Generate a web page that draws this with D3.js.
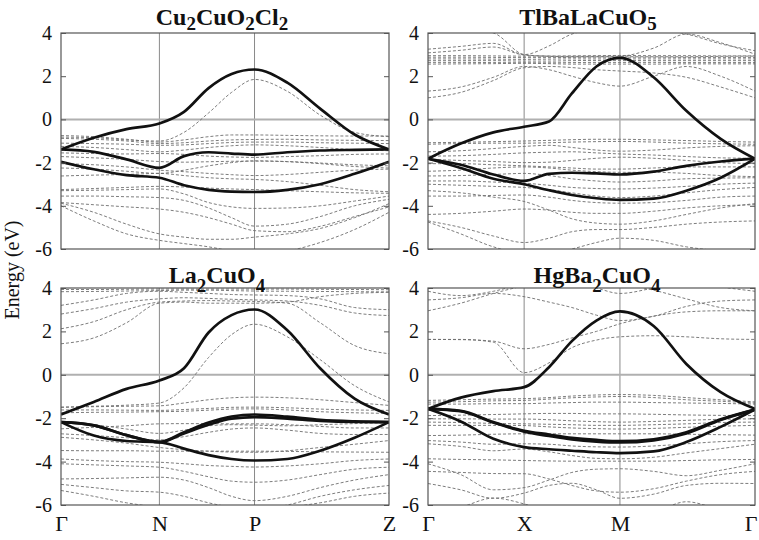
<!DOCTYPE html>
<html>
<head>
<meta charset="utf-8">
<script src="https://cdn.jsdelivr.net/npm/d3@7"></script>
<style>
  body { margin: 0; background: #fff; }
  svg { display: block; }
</style>
</head>
<body>
<div id="chart"></div>
<script>
// k-path sample positions (fraction of the path) and symmetry points
var kLeft  = [0, 0.1, 0.2, 0.3, 0.375, 0.45, 0.52, 0.59, 0.69, 0.79, 0.895, 1];
var kRight = [0, 0.1, 0.2, 0.294, 0.37, 0.44, 0.515, 0.587, 0.69, 0.79, 0.895, 1];
var symLeft = ["Γ", "N", "P", "Z"];
var symLeftK = [0, 0.3, 0.59, 1];
var symRight = ["Γ", "X", "M", "Γ"];
var symRightK = [0, 0.294, 0.587, 1];
var energyTicks = [4, 2, 0, -2, -4, -6];

// titles: [text, isSubscript]
var cu2Title = [["Cu", 0], ["2", 1], ["CuO", 0], ["2", 1], ["Cl", 0], ["2", 1]];
var tlTitle = [["TlBaLaCuO", 0], ["5", 1]];
var laTitle = [["La", 0], ["2", 1], ["CuO", 0], ["4", 1]];
var hgTitle = [["HgBa", 0], ["2", 1], ["CuO", 0], ["4", 1]];

// ---- Cu2CuO2Cl2 (eV) ----
var cu2Bold = [
  [-1.39, -0.85, -0.45, -0.19, 0.35, 1.45, 2.1, 2.31, 1.7, 0.5, -0.7, -1.39],
  [-1.39, -1.5, -1.85, -2.24, -1.7, -1.52, -1.58, -1.63, -1.52, -1.44, -1.41, -1.39],
  [-1.96, -2.31, -2.58, -2.7, -3.05, -3.26, -3.34, -3.36, -3.26, -3.0, -2.52, -1.96]
];
var cu2Dashed = [
  [-0.82, -0.85, -0.95, -1.0, -0.6, 0.3, 1.25, 1.85, 1.3, 0.2, -0.6, -0.8],
  [-0.75, -0.8, -0.92, -1.05, -0.95, -0.8, -0.72, -0.72, -0.74, -0.76, -0.77, -0.77],
  [-0.88, -0.92, -1.0, -1.12, -1.08, -1.0, -0.95, -0.93, -0.92, -0.95, -0.97, -0.98],
  [-1.1, -1.12, -1.15, -1.2, -1.18, -1.12, -1.07, -1.05, -1.05, -1.08, -1.1, -1.12],
  [-1.25, -1.3, -1.4, -1.5, -1.42, -1.3, -1.22, -1.18, -1.22, -1.3, -1.4, -1.45],
  [-1.55, -1.58, -1.6, -1.58, -1.62, -1.7, -1.74, -1.76, -1.72, -1.68, -1.62, -1.6],
  [-1.72, -1.78, -1.85, -1.95, -1.98, -1.96, -1.94, -1.93, -1.96, -2.05, -2.18, -2.25],
  [-2.05, -2.1, -2.2, -2.35, -2.42, -2.5, -2.56, -2.6, -2.55, -2.45, -2.35, -2.3],
  [-2.25, -2.3, -2.4, -2.5, -2.35, -2.15, -2.0, -1.92, -1.95, -2.02, -2.1, -2.15],
  [-2.62, -2.58, -2.55, -2.5, -2.6, -2.7, -2.75, -2.78, -2.88, -3.05, -3.25, -3.35],
  [-3.25, -3.2, -3.15, -3.1, -3.13, -3.18, -3.22, -3.25, -3.3, -3.35, -3.4, -3.42],
  [-3.3, -3.28, -3.25, -3.22, -3.45, -3.85, -4.05, -4.12, -4.1, -4.0, -3.78, -3.55],
  [-3.55, -3.55, -3.58, -3.62, -3.75, -4.1, -4.55, -4.94, -4.85, -4.5, -4.0, -3.7],
  [-3.85, -3.95, -4.05, -4.15, -4.3, -4.55, -4.85, -5.15, -5.2, -4.95, -4.5, -4.05],
  [-3.88, -4.3, -4.85, -5.3, -5.45, -5.55, -5.55, -5.45, -5.3, -5.05, -4.55, -3.9],
  [-4.0, -4.7, -5.3, -5.6, -5.75, -5.9, -6.1, -6.3, -6.1, -5.7, -5.1, -4.3]
];

// ---- TlBaLaCuO5 ----
var tlBold = [
  [-1.82, -1.12, -0.6, -0.34, -0.1, 1.2, 2.45, 2.85, 1.95, 0.4, -0.9, -1.82],
  [-1.82, -2.1, -2.55, -2.85, -2.52, -2.47, -2.5, -2.55, -2.42, -2.15, -1.95, -1.82],
  [-1.82, -2.25, -2.75, -3.0, -3.28, -3.5, -3.65, -3.73, -3.67, -3.3, -2.7, -1.82]
];
var tlDashed = [
  [2.95, 2.95, 2.94, 2.93, 2.93, 2.94, 2.95, 2.96, 2.95, 2.95, 2.94, 2.94],
  [2.88, 2.88, 2.87, 2.86, 2.86, 2.87, 2.88, 2.88, 2.88, 2.87, 2.87, 2.87],
  [2.8, 2.8, 2.79, 2.78, 2.79, 2.8, 2.8, 2.8, 2.8, 2.8, 2.8, 2.8],
  [2.72, 2.72, 2.72, 2.7, 2.7, 2.72, 2.73, 2.73, 2.72, 2.72, 2.72, 2.72],
  [2.64, 2.64, 2.63, 2.62, 2.62, 2.63, 2.64, 2.64, 2.64, 2.63, 2.63, 2.63],
  [2.56, 2.57, 2.58, 2.6, 2.58, 2.56, 2.56, 2.56, 2.56, 2.57, 2.57, 2.57],
  [3.25, 3.38, 3.52, 3.0, 3.4, 3.95, 4.15, 4.2, 4.15, 3.95, 3.5, 3.18],
  [3.08, 3.2, 3.35, 2.98, 2.93, 2.92, 2.92, 2.93, 3.3, 3.95, 3.55, 3.02],
  [4.3, 4.2, 4.0, 3.0, 2.92, 2.9, 2.9, 2.9, 2.9, 2.9, 2.92, 2.93],
  [1.31, 1.5, 1.95, 2.45, 2.3, 2.0, 1.7, 1.54, 2.0, 2.45, 2.0, 1.31],
  [1.0, 1.25, 1.8, 2.39, 2.45, 2.4, 2.3, 2.24, 2.15, 1.95, 1.5, 1.0],
  [-1.08, -1.06, -1.03, -1.0, -0.97, -0.94, -0.92, -0.92, -0.95, -0.98, -1.02, -1.05],
  [-1.15, -1.12, -1.1, -1.1, -1.08, -1.05, -1.03, -1.02, -1.05, -1.1, -1.13, -1.15],
  [-1.5, -1.45, -1.35, -1.25, -1.2, -1.3, -1.42, -1.47, -1.42, -1.32, -1.25, -1.22],
  [-1.7, -1.68, -1.62, -1.55, -1.52, -1.5, -1.55, -1.6, -1.65, -1.72, -1.78, -1.8],
  [-1.85, -1.9, -1.95, -2.0, -1.98, -1.9, -1.8, -1.75, -1.8, -1.9, -2.0, -2.05],
  [-2.05, -2.05, -2.1, -2.15, -2.2, -2.25, -2.3, -2.3, -2.25, -2.2, -2.2, -2.2],
  [-2.4, -2.35, -2.25, -2.2, -2.25, -2.35, -2.42, -2.45, -2.45, -2.5, -2.6, -2.65],
  [-2.62, -2.6, -2.55, -2.5, -2.6, -2.75, -2.85, -2.9, -2.85, -2.75, -2.72, -2.7],
  [-2.85, -2.85, -2.9, -2.95, -3.05, -3.15, -3.2, -3.22, -3.18, -3.1, -3.0, -2.95],
  [-3.0, -3.05, -3.1, -3.15, -3.25, -3.4, -3.55, -3.62, -3.55, -3.4, -3.25, -3.15],
  [-3.55, -3.55, -3.52, -3.5, -3.6, -3.75, -3.85, -3.88, -3.85, -3.75, -3.6, -3.55],
  [-3.3, -3.4, -3.6, -3.8, -4.2, -4.6, -4.8, -4.85, -4.7, -4.4, -4.1, -3.9],
  [-4.4, -4.35, -4.25, -4.15, -4.2, -4.3, -4.35, -4.35, -4.25, -4.1, -4.0, -3.95],
  [-4.7, -5.0, -5.4, -5.7, -5.5, -5.2, -5.1, -5.1, -5.0, -4.85, -4.75, -4.7],
  [-4.75, -5.3, -5.9, -6.2, -6.2, -6.0, -5.7, -5.5, -5.6, -5.9, -6.1, -6.3]
];

// ---- La2CuO4 ----
var laBold = [
  [-1.83, -1.25, -0.65, -0.26, 0.3, 1.95, 2.75, 3.01, 2.05, 0.3, -1.1, -1.83],
  [-2.18, -2.33, -2.78, -3.1, -2.65, -2.2, -1.92, -1.83, -1.93, -2.08, -2.15, -2.18],
  [-2.18, -2.33, -2.78, -3.1, -2.7, -2.3, -2.02, -1.95, -2.02, -2.12, -2.17, -2.18],
  [-2.18, -2.8, -3.05, -3.1, -3.4, -3.7, -3.88, -3.95, -3.88, -3.5, -2.9, -2.18]
];
var laDashed = [
  [3.93, 3.93, 3.94, 3.95, 3.95, 3.95, 3.95, 3.95, 3.95, 3.94, 3.93, 3.92],
  [3.83, 3.84, 3.86, 3.88, 3.9, 3.9, 3.88, 3.86, 3.85, 3.84, 3.83, 3.82],
  [3.2, 3.45, 3.75, 3.85, 3.8, 3.75, 3.7, 3.68, 3.65, 3.5, 3.1, 3.0],
  [2.8, 3.05, 3.35, 3.5, 3.55, 3.52, 3.48, 3.45, 3.4, 3.2, 2.85, 2.73],
  [2.12, 2.45, 3.0, 3.35, 3.4, 3.42, 3.4, 3.38, 3.3, 2.4, 1.35, 0.97],
  [1.43, 1.7, 2.4, 3.3, 3.35, 3.3, 3.3, 3.3, 3.35, 3.6, 3.75, 3.8],
  [-1.5, -1.45, -1.4, -1.3, -0.6, 0.8, 1.85, 2.33, 1.75, 0.7, -0.5, -1.25],
  [-1.49, -1.47, -1.45, -1.43, -1.3, -1.15, -1.06, -1.03, -1.06, -1.15, -1.28, -1.41],
  [-1.62, -1.62, -1.63, -1.64, -1.6, -1.55, -1.5, -1.49, -1.52, -1.58, -1.62, -1.64],
  [-1.75, -1.73, -1.72, -1.7, -1.68, -1.63, -1.58, -1.57, -1.62, -1.7, -1.75, -1.78],
  [-2.2, -2.3, -2.5, -2.7, -2.55, -2.35, -2.3, -2.32, -2.35, -2.3, -2.25, -2.2],
  [-2.49, -2.42, -2.35, -2.26, -2.25, -2.25, -2.26, -2.26, -2.3, -2.38, -2.45, -2.45],
  [-2.72, -2.8, -2.9, -3.0, -2.85, -2.65, -2.5, -2.45, -2.55, -2.7, -2.75, -2.75],
  [-2.88, -3.0, -3.15, -3.35, -3.45, -3.52, -3.56, -3.57, -3.5, -3.35, -3.2, -3.03],
  [-3.49, -3.5, -3.5, -3.52, -3.52, -3.52, -3.52, -3.52, -3.53, -3.55, -3.56, -3.57],
  [-3.88, -3.95, -4.0, -4.03, -4.1, -4.18, -4.22, -4.25, -4.2, -4.1, -3.95, -3.88],
  [-4.1, -4.15, -4.2, -4.26, -4.45, -4.7, -4.9, -4.95, -4.85, -4.6, -4.35, -4.26],
  [-4.8, -4.78, -4.75, -4.72, -4.85, -5.2, -5.6, -5.8, -5.6, -5.2, -4.85, -4.6],
  [-5.05, -5.2, -5.35, -5.41, -5.6, -5.9, -6.1, -6.2, -6.0, -5.6, -5.3, -5.1],
  [-5.33, -5.6, -5.9, -6.1, -6.2, -6.2, -6.2, -6.2, -6.1, -5.9, -5.6, -5.45]
];

// ---- HgBa2CuO4 ----
var hgBold = [
  [-1.57, -1.05, -0.75, -0.57, 0.35, 1.55, 2.5, 2.92, 2.25, 0.5, -0.8, -1.57],
  [-1.57, -1.66, -2.18, -2.58, -2.75, -2.9, -3.0, -3.06, -2.97, -2.65, -2.05, -1.6],
  [-1.57, -1.68, -2.2, -2.62, -2.82, -2.98, -3.08, -3.12, -3.02, -2.7, -2.08, -1.6],
  [-1.57, -2.15, -2.95, -3.33, -3.43, -3.5, -3.57, -3.61, -3.53, -3.1, -2.4, -1.6]
];
var hgDashed = [
  [3.85, 3.65, 3.85, 4.2, 4.4, 4.3, 4.0, 3.75, 4.0, 4.3, 4.05, 3.85],
  [3.45, 3.55, 3.75, 3.6, 3.35, 3.1, 2.75, 2.5, 2.7, 3.15, 3.4, 3.45],
  [2.95, 3.3, 3.75, 4.1, 4.3, 4.4, 4.3, 4.2, 3.9, 3.5, 3.1, 2.95],
  [1.63, 1.63, 1.5, 0.1, 0.55, 1.25, 1.6, 1.75, 1.8, 1.75, 1.66, 1.63],
  [1.63, 1.62, 1.55, 1.2, 1.4, 1.7, 2.0, 2.35, 2.7, 2.9, 2.95, 2.95],
  [-1.18, -1.15, -1.12, -1.1, -1.05, -0.98, -0.93, -0.91, -0.95, -1.05, -1.15, -1.25],
  [-1.26, -1.24, -1.2, -1.18, -1.12, -1.06, -1.02, -1.0, -1.05, -1.15, -1.22, -1.3],
  [-1.35, -1.35, -1.33, -1.33, -1.3, -1.28, -1.26, -1.26, -1.28, -1.3, -1.32, -1.35],
  [-1.88, -1.86, -1.83, -1.8, -1.78, -1.78, -1.8, -1.8, -1.82, -1.85, -1.87, -1.88],
  [-2.03, -2.03, -2.04, -2.04, -2.07, -2.12, -2.16, -2.18, -2.15, -2.1, -2.05, -2.03],
  [-2.18, -2.2, -2.24, -2.26, -2.28, -2.3, -2.33, -2.33, -2.3, -2.26, -2.2, -2.18],
  [-2.33, -2.33, -2.33, -2.34, -2.4, -2.45, -2.48, -2.5, -2.47, -2.42, -2.37, -2.33],
  [-2.8, -2.78, -2.74, -2.72, -2.72, -2.72, -2.72, -2.72, -2.72, -2.74, -2.76, -2.78],
  [-3.03, -3.1, -3.2, -3.18, -3.2, -3.28, -3.32, -3.33, -3.28, -3.18, -3.08, -3.03],
  [-3.18, -3.3, -3.5, -3.42, -3.55, -3.72, -3.85, -3.87, -3.8, -3.6, -3.4, -3.2],
  [-3.87, -3.9, -3.92, -3.95, -3.97, -3.98, -3.98, -3.98, -3.98, -3.95, -3.92, -3.9],
  [-4.1, -4.6, -5.3, -5.2, -4.85, -4.5, -4.35, -4.33, -4.45, -4.65, -4.4, -4.1],
  [-4.45, -4.5, -4.55, -4.56, -4.8, -5.1, -5.35, -5.41, -5.25, -4.9, -4.6, -4.45],
  [-5.01, -5.3, -5.69, -5.45, -5.1, -5.0, -5.3, -5.69, -5.5, -5.1, -5.0, -5.01],
  [-6.4, -6.1, -5.68, -5.95, -6.3, -6.4, -6.4, -6.4, -6.3, -5.85, -6.2, -6.4]
];

var W = 759, H = 540;
var svg = d3.select("#chart").append("svg")
  .attr("width", W)
  .attr("height", H)
  .style("background", "#fff");

var panels = [
  {id: "p1", title: cu2Title, bold: cu2Bold, dashed: cu2Dashed, k: kLeft, symK: symLeftK, sym: symLeft,
   x0: 61, x1: 389, y0: 33, y1: 249, yLabels: true, xLabels: false, tx: 222, ty: 25, drop: 5},
  {id: "p2", title: tlTitle, bold: tlBold, dashed: tlDashed, k: kRight, symK: symRightK, sym: symRight,
   x0: 428, x1: 755, y0: 33, y1: 249, yLabels: false, xLabels: false, tx: 588, ty: 25, drop: 5},
  {id: "p3", title: laTitle, bold: laBold, dashed: laDashed, k: kLeft, symK: symLeftK, sym: symLeft,
   x0: 61, x1: 389, y0: 288, y1: 505, yLabels: true, xLabels: true, tx: 217, ty: 283, drop: 9},
  {id: "p4", title: hgTitle, bold: hgBold, dashed: hgDashed, k: kRight, symK: symRightK, sym: symRight,
   x0: 428, x1: 755, y0: 288, y1: 505, yLabels: false, xLabels: true, tx: 597, ty: 283, drop: 9}
];

var serif = "'Liberation Serif', 'Times New Roman', serif";

panels.forEach(function(p) {
  var x = d3.scaleLinear().domain([0, 1]).range([p.x0, p.x1]);
  var y = d3.scaleLinear().domain([-6, 4]).range([p.y1, p.y0]);
  var g = svg.append("g");

  g.append("clipPath").attr("id", "clip-" + p.id)
    .append("rect")
      .attr("x", p.x0).attr("y", p.y0)
      .attr("width", p.x1 - p.x0).attr("height", p.y1 - p.y0);

  // vertical lines at inner symmetry points
  g.selectAll(".vgrid")
    .data(p.symK.slice(1, -1))
    .enter().append("line")
      .attr("x1", function(d) { return x(d); })
      .attr("x2", function(d) { return x(d); })
      .attr("y1", p.y0).attr("y2", p.y1)
      .attr("stroke", "#8a8a8a")
      .attr("stroke-width", 1);

  // Fermi level
  g.append("line")
    .attr("x1", p.x0).attr("x2", p.x1)
    .attr("y1", y(0)).attr("y2", y(0))
    .attr("stroke", "#b0b0b0")
    .attr("stroke-width", 2);

  var line = d3.line()
    .x(function(d, i) { return x(p.k[i]); })
    .y(function(d) { return y(d); })
    .curve(d3.curveMonotoneX);

  var bands = g.append("g").attr("clip-path", "url(#clip-" + p.id + ")");

  bands.selectAll(".dashed")
    .data(p.dashed)
    .enter().append("path")
      .attr("d", line)
      .attr("fill", "none")
      .attr("stroke", "#6e6e6e")
      .attr("stroke-width", 0.9)
      .attr("stroke-dasharray", "3,2");

  bands.selectAll(".bold")
    .data(p.bold)
    .enter().append("path")
      .attr("d", line)
      .attr("fill", "none")
      .attr("stroke", "#111")
      .attr("stroke-width", 2.7);

  // frame
  g.append("rect")
    .attr("x", p.x0).attr("y", p.y0)
    .attr("width", p.x1 - p.x0).attr("height", p.y1 - p.y0)
    .attr("fill", "none")
    .attr("stroke", "#555")
    .attr("stroke-width", 1.2);

  // energy ticks, pointing inward
  var left = g.append("g")
    .attr("transform", "translate(" + p.x0 + ",0)")
    .call(d3.axisLeft(y).tickValues(energyTicks).tickSize(-5).tickPadding(9)
      .tickFormat(p.yLabels ? d3.format("d") : ""));
  var right = g.append("g")
    .attr("transform", "translate(" + p.x1 + ",0)")
    .call(d3.axisRight(y).tickValues(energyTicks).tickSize(-5).tickFormat(""));
  [left, right].forEach(function(a) {
    a.select(".domain").remove();
    a.selectAll(".tick line").attr("stroke", "#555");
    a.selectAll("text")
      .style("font-family", serif)
      .style("font-size", "20px")
      .attr("fill", "#111");
  });
  left.selectAll("text").text(function(d) { return d < 0 ? "-" + Math.abs(d) : d; });

  if (p.xLabels) {
    var bottom = g.append("g")
      .attr("transform", "translate(0," + p.y1 + ")")
      .call(d3.axisBottom(x).tickValues(p.symK).tickSize(0).tickPadding(10)
        .tickFormat(function(d, i) { return p.sym[i]; }));
    bottom.select(".domain").remove();
    bottom.selectAll("text")
      .style("font-family", serif)
      .style("font-size", "22px")
      .attr("fill", "#111");
    // keep the last label of the right panel inside the page
    if (p.x1 > W - 10) {
      bottom.selectAll(".tick").filter(function(d, i) { return i === p.symK.length - 1; })
        .select("text").attr("text-anchor", "end").attr("dx", "2");
    }
  }

  // title with subscripts
  var t = svg.append("text")
    .attr("x", p.tx).attr("y", p.ty)
    .attr("text-anchor", "middle")
    .style("font-family", serif)
    .style("font-weight", "bold")
    .style("font-size", "24px")
    .attr("fill", "#111");
  var down = false;
  p.title.forEach(function(part) {
    var s = t.append("tspan").text(part[0]);
    if (part[1]) {
      s.attr("dy", p.drop).style("font-size", "19px");
      down = true;
    } else if (down) {
      s.attr("dy", -p.drop);
      down = false;
    }
  });
});

svg.append("text")
  .attr("transform", "translate(19,270) rotate(-90)")
  .attr("text-anchor", "middle")
  .style("font-family", serif)
  .style("font-size", "20px")
  .attr("fill", "#111")
  .text("Energy (eV)");
</script>
</body>
</html>
